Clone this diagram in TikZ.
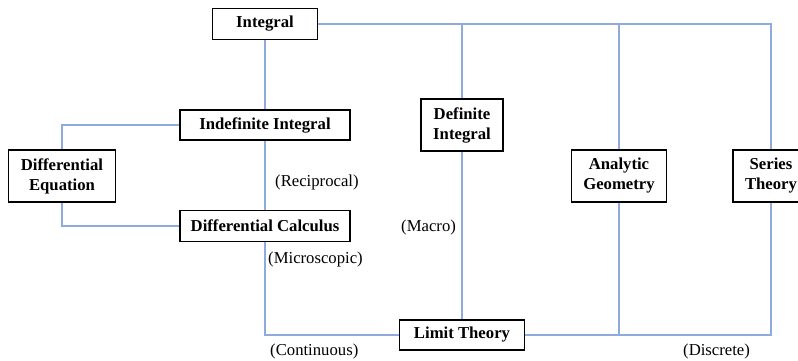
\documentclass[tikz,border=0pt]{standalone}
\usepackage{fontspec}
\setmainfont{Liberation Serif}
\definecolor{linkblue}{RGB}{143,170,220}
\tikzset{
  box/.style  = {draw, line width=1.6pt, font=\fontsize{16.7}{20}\selectfont\bfseries,
                 inner sep=0pt, align=center},
  link/.style = {draw=linkblue, line width=1.1pt},
  note/.style = {anchor=west, inner sep=0pt, font=\fontsize{16.7}{20}\selectfont}
}

\begin{document}
\begin{tikzpicture}[x=1pt, y=-1pt]
  \useasboundingbox (0,0) rectangle (798,361);
  \clip (0,0) rectangle (798,361);

  % boxes
  \node[box, minimum width=105pt, minimum height=31pt] (int)      at (265,24)  {Integral};
  \node[box, minimum width=170pt, minimum height=30pt] (indef)    at (265,125) {Indefinite Integral};
  \node[box, minimum width=107pt, minimum height=52pt] (diffeq)   at (62,176)  {Differential\\Equation};
  \node[box, minimum width=170pt, minimum height=31pt] (diffcalc) at (265,226) {Differential Calculus};
  \node[box, minimum width=82pt,  minimum height=52pt] (def)      at (462,125) {Definite\\Integral};
  \node[box, minimum width=95pt,  minimum height=52pt] (ana)      at (619,176) {Analytic\\Geometry};
  \node[box, minimum width=76pt,  minimum height=52pt] (series)   at (771,176) {Series\\Theory};
  \node[box, minimum width=125pt, minimum height=30pt] (limit)    at (462,335) {Limit Theory};

  % labels
  \node[note] (rec)  at (275,182) {(Reciprocal)};
  \node[note] (mic)  at (268,259) {(Microscopic)};
  \node[note] (cont) at (270,351) {(Continuous)};
  \node[note] (mac)  at (401,227) {(Macro)};
  \node[note] (disc) at (683,351) {(Discrete)};

  % connectors
  \draw[link] (int.east) -| (series.north);
  \draw[link] (def.north) -- (def.north |- int.east);
  \draw[link] (ana.north) -- (ana.north |- int.east);
  \draw[link] (int.south) -- (indef.north);
  \draw[link] (indef.south) -- (diffcalc.north);
  \draw[link] (indef.west) -| (diffeq.north);
  \draw[link] (diffeq.south) |- (diffcalc.west);
  \draw[link] (diffcalc.south) |- (limit.west);
  \draw[link] (def.south) -- (limit.north);
  \draw[link] (limit.east) -| (series.south);
  \draw[link] (ana.south) -- (ana.south |- limit.east);
\end{tikzpicture}
\end{document}
